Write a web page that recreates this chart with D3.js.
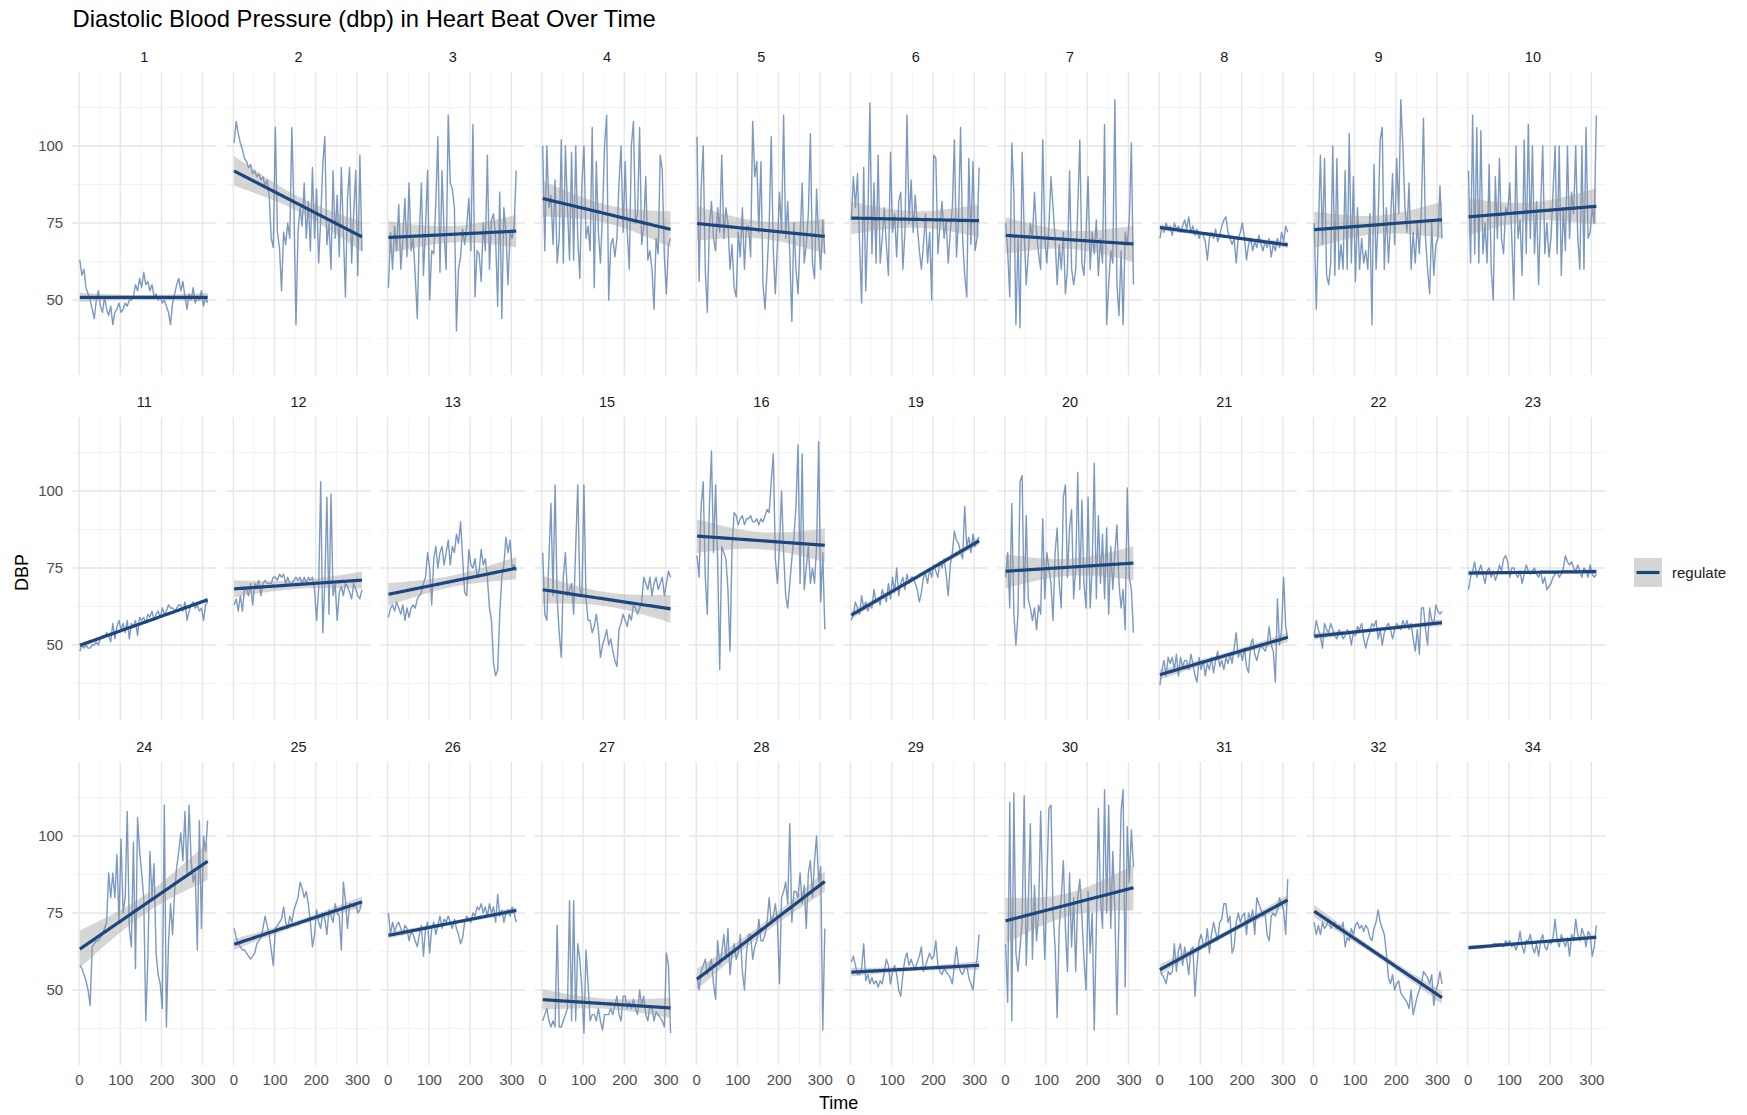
<!DOCTYPE html>
<html>
<head>
<meta charset="utf-8">
<script src="https://cdn.jsdelivr.net/npm/d3@7"></script>
<style>
  body { margin: 0; background: #ffffff; }
  svg { display: block; font-family: "Liberation Sans", Arial, Helvetica, sans-serif; }
</style>
</head>
<body>
<svg id="chart" width="1747" height="1115"></svg>
<script>
// Diastolic blood pressure per subject, one reading kept every 5 time units
const TIME_START = 2;
const TIME_STEP = 5;
// number of readings in each subject's full record (used for the standard error)
const READINGS_PER_SUBJECT = 125;

const subjects = ["1","2","3","4","5","6","7","8","9","10",
                  "11","12","13","15","16","19","20","21","22","23",
                  "24","25","26","27","28","29","30","31","32","34"];

const dbp1  = [63,58,60,54,52,50,47,44,50,53, 48,46,51,47,45,48,42,46,47,49, 46,47,49,48,50,50,51,55,53,57, 54,59,55,56,53,55,51,52,50,51, 49,50,48,46,42,49,52,55,57,53, 56,51,47,52,50,54,49,51,50,53, 48,51,49];
const dbp2  = [101,108,104,101,99,96,95,93,94,91, 92,90,91,89,90,87,89,84,70,67, 106,72,67,53,72,68,75,70,106,80, 42,72,80,74,88,70,82,66,93,70, 86,62,76,94,103,68,75,60,92,70, 84,64,93,72,51,83,93,62,78,92, 58,97,66];
const dbp3  = [54,72,60,74,66,81,60,70,83,64, 88,66,70,58,44,72,88,58,74,92, 50,66,65,82,103,59,92,72,60,110, 88,86,80,40,60,64,73,68,74,83, 66,107,51,66,65,56,75,66,97,60, 76,78,70,48,85,44,80,72,55,72, 70,74,92];
const dbp4  = [100,66,100,80,84,68,89,62,70,102, 62,100,80,63,98,63,100,70,57,88, 100,70,74,66,106,54,95,72,62,78, 100,110,50,68,70,64,70,88,100,72, 95,72,60,100,108,75,78,106,68,74, 90,63,66,60,47,70,65,97,92,64, 52,68,70];
const dbp5  = [103,56,86,100,60,46,74,82,70,66, 80,72,97,70,80,75,60,68,54,51, 72,64,80,60,74,74,64,108,90,95, 72,95,55,47,60,74,103,66,52,68, 85,72,110,70,82,65,43,75,60,52, 70,88,62,68,78,104,62,57,86,70, 60,76,65];
const dbp6  = [76,90,80,91,68,49,93,53,75,114, 65,88,62,97,62,70,80,68,58,98, 72,78,64,82,85,60,72,110,75,89, 72,84,74,66,60,68,78,62,72,50, 97,96,65,74,82,70,76,62,72,80, 102,64,76,106,70,58,51,96,68,95, 66,70,93];
const dbp7  = [75,66,51,101,85,42,70,41,98,72, 55,65,75,70,85,72,65,60,102,70, 62,74,90,80,70,55,68,60,72,52, 60,92,60,55,60,80,102,62,58,72, 90,60,72,65,76,58,70,62,107,42, 55,66,62,115,55,45,66,42,72,68, 76,101,55];
const dbp8  = [70,74,72,75,73,74,71,75,73,74, 72,74,76,73,77,72,74,71,73,70, 72,71,69,63,70,72,70,73,69,71, 74,76,77,72,70,68,70,62,70,72, 75,70,63,68,70,66,69,67,71,68, 66,69,67,70,64,68,66,70,67,72, 69,74,72];
const dbp9  = [75,47,72,97,68,96,58,55,62,100, 58,96,60,68,60,92,60,104,62,90, 56,80,60,70,62,66,60,78,42,94, 60,76,102,106,60,80,62,75,91,68, 96,78,115,100,80,72,88,60,72,62, 75,65,80,109,70,60,52,75,58,68, 70,87,70];
const dbp10 = [92,62,110,65,106,62,105,65,75,62, 94,60,50,90,70,96,70,65,80,78, 88,70,50,100,70,76,58,102,65,107, 70,100,65,82,55,80,100,65,75,64, 70,85,100,65,100,58,80,66,100,70, 85,78,100,70,60,100,60,106,70,72, 80,75,110];
const dbp11 = [48,50,49,50,49,49,50,50,51,50, 52,53,53,54,53,51,57,52,56,58, 55,57,54,58,52,57,56,58,53,59, 58,59,57,60,59,61,58,60,61,59, 62,60,61,63,62,62,61,62,63,63, 61,64,58,61,63,64,62,63,61,62, 58,63,64];
const dbp12 = [63,65,61,66,61,68,68,66,70,63, 70,69,71,66,70,71,70,70,70,72, 72,71,73,72,73,70,72,70,70,71, 72,71,72,70,72,70,72,71,72,68, 58,68,103,54,70,98,60,99,66,70, 58,67,69,66,70,69,67,65,70,68, 66,65,68];
const dbp13 = [59,62,63,61,64,62,60,63,58,62, 59,62,63,62,65,66,67,70,72,80, 75,63,78,82,75,80,82,76,80,84, 76,82,80,86,83,90,78,67,66,81, 76,75,78,72,74,81,76,78,72,62, 58,44,40,42,60,72,76,85,80,84, 75,76,74];
const dbp15 = [80,60,58,78,96,66,102,65,54,46, 72,80,66,68,70,60,82,102,68,66, 102,65,58,58,54,56,60,55,46,50, 52,55,50,52,48,45,43,55,57,60, 58,56,60,58,63,62,60,62,64,72, 70,68,72,66,70,72,68,70,72,66, 70,74,72];
const dbp16 = [79,72,95,103,72,60,95,113,80,102, 78,42,82,80,78,68,48,82,93,92, 89,91,92,89,91,91,92,90,90,91, 89,91,90,92,94,93,103,112,78,70, 82,100,80,66,62,70,78,85,95,115, 70,112,68,75,82,70,75,70,82,116, 64,80,55];
const dbp19 = [58,60,64,62,60,66,62,64,61,63, 62,68,64,65,63,68,66,64,70,65, 72,67,75,66,70,72,68,73,70,72, 72,70,68,64,67,72,73,70,75,72, 76,74,72,77,75,78,73,66,76,80, 87,84,83,80,78,95,82,85,80,86, 82,84,85];
const dbp20 = [72,80,62,96,60,50,60,103,105,62, 92,65,62,58,62,55,63,60,91,65, 80,75,70,58,80,88,70,62,98,102, 72,88,94,65,75,106,68,97,70,62, 98,62,75,109,65,92,70,86,65,88, 60,82,68,80,89,70,62,68,55,101, 72,68,54];
const dbp21 = [37,42,45,40,46,44,46,42,47,40, 46,43,45,45,42,47,44,40,38,46, 42,45,40,44,42,46,41,45,48,43, 45,42,46,44,47,44,49,54,46,48, 45,49,43,41,50,52,47,45,48,50, 49,48,50,56,50,48,38,65,50,55, 72,56,52];
const dbp22 = [53,58,55,53,49,57,55,54,57,55, 53,52,55,54,52,53,55,54,50,54, 53,56,55,57,52,49,52,54,57,56, 58,52,55,50,54,56,57,55,52,55, 57,56,55,58,56,58,55,57,52,48, 55,47,62,62,55,50,62,58,57,63, 61,60,61];
const dbp23 = [68,72,74,77,72,74,76,73,70,74, 75,72,74,71,73,76,74,78,79,77, 72,75,75,73,72,74,70,73,76,74, 73,74,75,73,72,74,70,72,68,69, 70,72,73,74,72,73,75,79,77,76, 77,75,74,76,74,72,75,74,72,76, 73,72,73];
const dbp24 = [58,57,55,53,50,45,64,65,66,66, 67,68,70,72,88,80,88,80,94,72, 99,75,80,108,70,64,98,57,106,95, 88,80,40,60,95,80,91,62,55,52, 44,110,38,65,78,68,82,90,95,101, 92,108,88,110,92,85,88,63,105,70, 100,95,105];
const dbp25 = [70,67,65,64,63,63,62,61,60,61, 62,65,66,67,70,74,71,68,63,58, 70,71,72,73,77,72,70,74,72,76, 78,80,85,83,80,82,78,72,64,68, 76,72,70,75,73,68,76,74,72,78, 75,74,63,85,79,70,78,78,77,78, 75,76,79];
const dbp26 = [75,68,72,69,71,72,70,68,71,70, 66,69,68,66,64,68,71,61,70,72, 62,70,72,68,71,74,70,73,72,74, 72,70,73,70,68,65,67,72,74,73, 72,75,74,77,76,78,75,77,74,78, 75,77,72,81,74,76,72,75,76,74, 77,75,72];
const dbp27 = [40,42,44,40,38,40,38,71,38,38, 40,42,44,79,40,79,40,65,60,50, 36,63,52,40,42,42,40,44,40,37, 42,42,42,44,42,45,48,42,40,48, 48,44,46,44,47,44,42,50,45,48, 42,40,45,44,40,43,42,41,40,38, 62,58,36];
const dbp28 = [54,50,56,58,60,55,58,60,52,47, 66,58,62,68,60,70,55,62,65,60, 62,68,56,50,62,68,68,60,64,66, 73,66,66,68,72,80,72,74,78,72, 52,80,82,85,78,104,72,82,82,80, 88,78,84,70,88,92,80,92,100,85, 90,37,70];
const dbp29 = [59,61,58,55,55,57,65,53,55,52, 54,52,53,51,53,52,56,60,58,52, 56,58,55,50,48,55,60,62,58,60, 58,57,59,61,64,56,58,60,62,60, 61,66,58,56,55,57,56,55,54,52, 58,64,58,56,55,57,58,54,52,50, 57,60,68];
const dbp30 = [65,46,111,40,114,62,56,64,72,113, 58,78,104,60,84,66,75,108,80,60, 85,109,110,75,64,41,70,80,92,70, 56,88,64,80,56,80,86,74,60,50, 82,62,75,37,70,109,80,70,115,75, 110,70,95,76,42,75,108,115,51,103, 85,102,90];
const dbp31 = [57,55,54,52,56,55,56,65,56,63, 65,58,64,60,55,63,64,48,58,66, 68,65,64,70,62,68,72,69,66,72, 73,78,78,72,74,62,64,72,75,72, 74,75,68,75,73,76,68,80,78,76, 74,75,68,66,74,75,74,76,80,78, 76,68,86];
const dbp32 = [72,68,71,68,72,70,71,73,70,71, 72,70,71,70,72,64,67,66,70,68, 71,72,70,71,69,71,70,67,66,70, 72,76,72,70,68,62,54,52,55,50, 52,53,49,48,47,46,44,50,42,45, 48,50,52,56,55,54,52,55,45,50, 52,56,52];
const dbp34 = [64,64,64,64,64,64,64,64,64,64, 64,64,65,65,65,65,65,64,66,65, 66,64,65,63,65,69,64,62,66,66, 68,64,62,65,61,66,68,64,63,66, 65,67,73,66,64,68,66,64,67,61, 68,66,73,68,66,70,68,64,69,68, 61,64,71];

const subjectSeries = [dbp1, dbp2, dbp3, dbp4, dbp5, dbp6, dbp7, dbp8, dbp9, dbp10,
                       dbp11, dbp12, dbp13, dbp15, dbp16, dbp19, dbp20, dbp21, dbp22, dbp23,
                       dbp24, dbp25, dbp26, dbp27, dbp28, dbp29, dbp30, dbp31, dbp32, dbp34];

// axis breaks
const timeTicks = [0, 100, 200, 300];
const timeMinor = [50, 150, 250];
const dbpTicks = [50, 75, 100];
const dbpMinor = [37.5, 62.5, 87.5, 112.5];

const legendLabels = ["regulate"];

// ---- layout ----
const NCOL = 10;
const panelW = 145, panelH = 303;
const colPitch = 154.3, rowPitch = 345;
const left0 = 71.7, top0 = 72;

const COL_LINE = "#5b7fb1";
const COL_FIT = "#1c467f";
const COL_BAND = "#999999";

const svg = d3.select("#chart");

const x = d3.scaleLinear().domain([-17.7, 334]).range([0, panelW]);
const y = d3.scaleLinear().domain([25.65, 124.03]).range([panelH, 0]);

// two-sided 95% t quantile (Cornish-Fisher expansion around the normal quantile)
function tQuantile975(df) {
  const z = 1.959964;
  return z + (z ** 3 + z) / (4 * df) + (5 * z ** 5 + 16 * z ** 3 + 3 * z) / (96 * df * df);
}

// least squares line with a pointwise 95% confidence band;
// the band's standard error is taken for the full record of N readings
function linearSmooth(ts, vs, N) {
  const n = ts.length;
  const mt = d3.mean(ts), mv = d3.mean(vs);
  let sxx = 0, sxy = 0;
  ts.forEach((t, i) => { sxx += (t - mt) ** 2; sxy += (t - mt) * (vs[i] - mv); });
  const b = sxy / sxx, a = mv - b * mt;
  const rss = d3.sum(ts, (t, i) => (vs[i] - a - b * t) ** 2);
  const s = Math.sqrt(rss / (n - 2));
  const sxxFull = sxx * N / n;
  const q = tQuantile975(N - 2);
  const [t0, t1] = d3.extent(ts);
  return d3.range(80).map(k => {
    const t = t0 + (t1 - t0) * k / 79;
    const fit = a + b * t;
    const se = s * Math.sqrt(1 / N + (t - mt) ** 2 / sxxFull);
    return { t, fit, lo: fit - q * se, hi: fit + q * se };
  });
}

// ---- title ----
svg.append("text")
  .attr("x", 72.5).attr("y", 27)
  .attr("font-size", 23.8).attr("fill", "#000")
  .text("Diastolic Blood Pressure (dbp) in Heart Beat Over Time");

const line = d3.line().x(d => x(d.t)).y(d => y(d.v));
const fitLine = d3.line().x(d => x(d.t)).y(d => y(d.fit));
const band = d3.area().x(d => x(d.t)).y0(d => y(d.lo)).y1(d => y(d.hi));

subjects.forEach((id, idx) => {
  const col = idx % NCOL, row = Math.floor(idx / NCOL);
  const g = svg.append("g")
    .attr("transform", `translate(${left0 + col * colPitch},${top0 + row * rowPitch})`);

  // grid
  const grid = g.append("g");
  grid.selectAll(".vminor").data(timeMinor).join("line")
    .attr("x1", d => x(d)).attr("x2", d => x(d)).attr("y1", 0).attr("y2", panelH)
    .attr("stroke", "#f2f2f2").attr("stroke-width", 0.9);
  grid.selectAll(".hminor").data(dbpMinor).join("line")
    .attr("y1", d => y(d)).attr("y2", d => y(d)).attr("x1", 0).attr("x2", panelW)
    .attr("stroke", "#f2f2f2").attr("stroke-width", 0.9);
  grid.selectAll(".vmajor").data(timeTicks).join("line")
    .attr("x1", d => x(d)).attr("x2", d => x(d)).attr("y1", 0).attr("y2", panelH)
    .attr("stroke", "#e6e6e6").attr("stroke-width", 1.4);
  grid.selectAll(".hmajor").data(dbpTicks).join("line")
    .attr("y1", d => y(d)).attr("y2", d => y(d)).attr("x1", 0).attr("x2", panelW)
    .attr("stroke", "#e6e6e6").attr("stroke-width", 1.4);

  // facet strip
  svg.append("text")
    .attr("x", left0 + col * colPitch + panelW / 2)
    .attr("y", top0 + row * rowPitch - 10)
    .attr("text-anchor", "middle")
    .attr("font-size", 14.5).attr("fill", "#1a1a1a")
    .text(id);

  const vals = subjectSeries[idx];
  const pts = vals.map((v, i) => ({ t: TIME_START + i * TIME_STEP, v }));

  g.append("path").datum(pts)
    .attr("d", line)
    .attr("fill", "none")
    .attr("stroke", COL_LINE).attr("stroke-opacity", 0.8)
    .attr("stroke-width", 1.4).attr("stroke-linejoin", "round");

  const sm = linearSmooth(pts.map(p => p.t), vals, READINGS_PER_SUBJECT);
  g.append("path").datum(sm)
    .attr("d", band)
    .attr("fill", COL_BAND).attr("fill-opacity", 0.4);
  g.append("path").datum(sm)
    .attr("d", fitLine)
    .attr("fill", "none")
    .attr("stroke", COL_FIT).attr("stroke-width", 3.2);

  // y axis on the first column
  if (col === 0) {
    const ax = g.append("g")
      .call(d3.axisLeft(y).tickValues(dbpTicks).tickSize(0).tickPadding(8.5));
    ax.select(".domain").remove();
    ax.selectAll("text").attr("font-size", 15).attr("fill", "#4d4d4d")
      .attr("font-family", "Liberation Sans, Arial, sans-serif");
  }
  // x axis on the bottom row
  if (row === 2) {
    const ax = g.append("g").attr("transform", `translate(0,${panelH})`)
      .call(d3.axisBottom(x).tickValues(timeTicks).tickSize(0).tickPadding(9.5));
    ax.select(".domain").remove();
    ax.selectAll("text").attr("font-size", 15).attr("fill", "#4d4d4d")
      .attr("font-family", "Liberation Sans, Arial, sans-serif");
  }
});

// axis titles
const plotLeft = left0, plotRight = left0 + (NCOL - 1) * colPitch + panelW;
const plotTop = top0, plotBottom = top0 + 2 * rowPitch + panelH;
svg.append("text")
  .attr("x", (plotLeft + plotRight) / 2).attr("y", 1108.5)
  .attr("text-anchor", "middle").attr("font-size", 18).attr("fill", "#000")
  .text("Time");
svg.append("text")
  .attr("transform", `translate(27.5,${(plotTop + plotBottom) / 2 + 4}) rotate(-90)`)
  .attr("text-anchor", "middle").attr("font-size", 18).attr("fill", "#000")
  .text("DBP");

// legend
const lg = svg.append("g").attr("transform", "translate(1634,558)");
lg.append("rect").attr("width", 28).attr("height", 29)
  .attr("fill", COL_BAND).attr("fill-opacity", 0.4);
lg.append("line").attr("x1", 2.5).attr("x2", 25.5).attr("y1", 14.5).attr("y2", 14.5)
  .attr("stroke", COL_FIT).attr("stroke-width", 3.2);
lg.append("text").attr("x", 38).attr("y", 14.5).attr("dy", "0.35em")
  .attr("font-size", 15).attr("fill", "#1a1a1a")
  .text(legendLabels[0]);
</script>
</body>
</html>
